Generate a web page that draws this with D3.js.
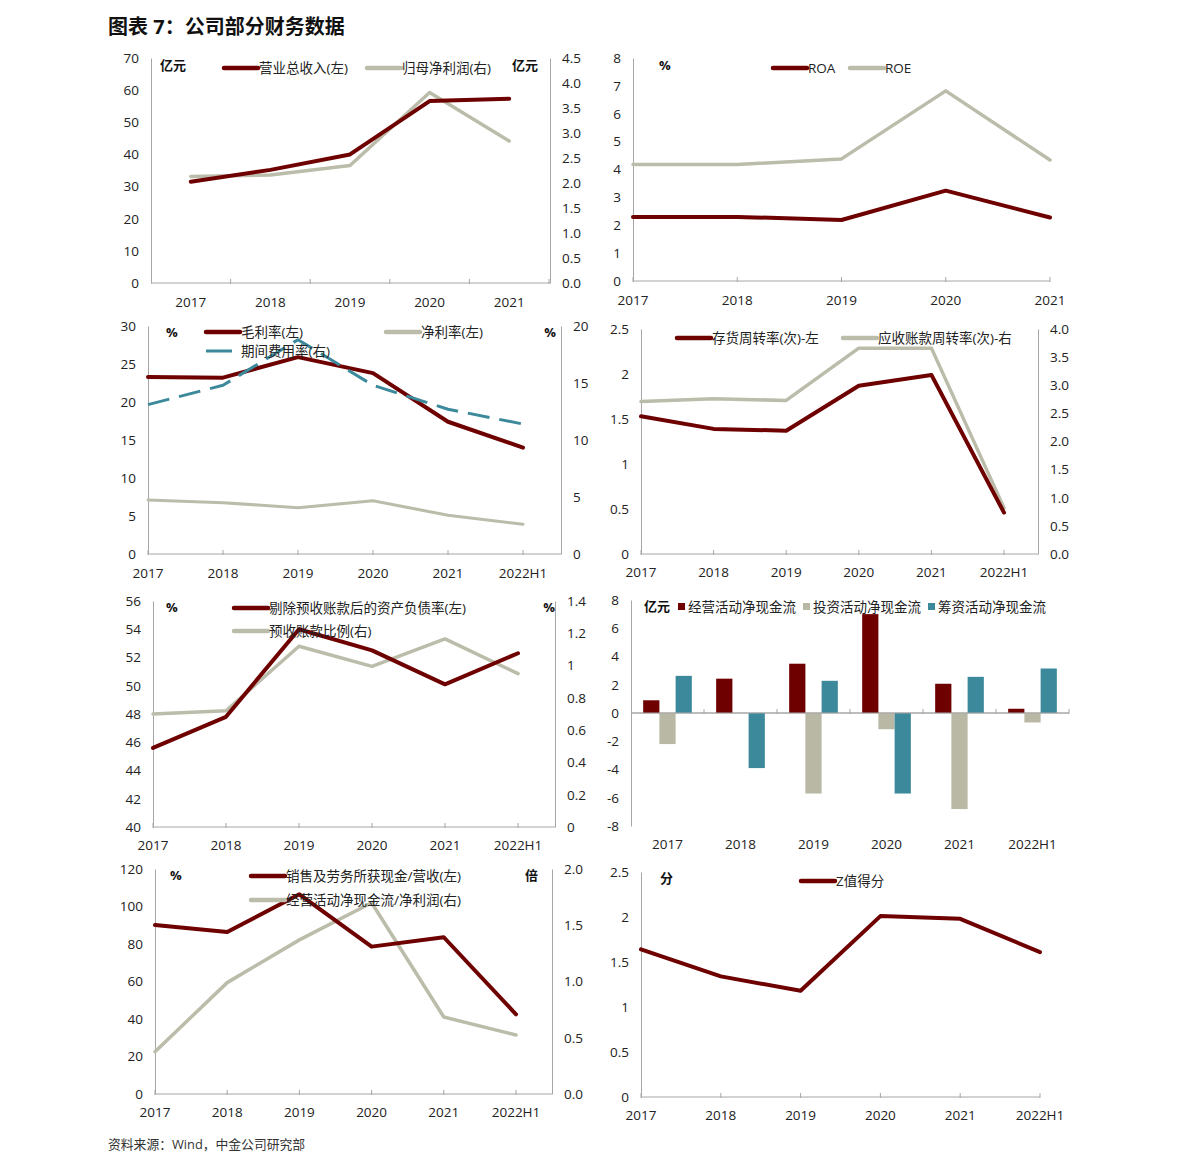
<!DOCTYPE html>
<html><head><meta charset="utf-8">
<script src="https://cdn.jsdelivr.net/npm/d3@7"></script>
<style>
body{margin:0;background:#fff;}
text{font-family:"Open Sans","Noto Sans CJK SC",sans-serif;}
</style></head>
<body>
<svg id="c" width="1190" height="1172"></svg>
<script>
// ---------- DATA ----------
const years5 = ["2017","2018","2019","2020","2021"];
const years6 = ["2017","2018","2019","2020","2021","2022H1"];

const revenue = [31.5, 35.2, 40.0, 56.6, 57.3];          // 营业总收入(左) 亿元
const netProfit = [2.13, 2.16, 2.35, 3.81, 2.84];        // 归母净利润(右) 亿元

const roa = [2.30, 2.30, 2.19, 3.24, 2.28];
const roe = [4.18, 4.18, 4.38, 6.82, 4.34];

const grossMargin = [23.3, 23.2, 25.9, 23.8, 17.4, 14.0]; // 毛利率(左)
const netMargin = [7.1, 6.75, 6.1, 7.0, 5.1, 3.9];        // 净利率(左)
const expenseRate = [13.1, 14.8, 18.8, 14.8, 12.7, 11.4]; // 期间费用率(右)

const invTurnover = [1.53, 1.39, 1.37, 1.87, 1.99, 0.46]; // 存货周转率(次)-左
const arTurnover = [2.71, 2.76, 2.73, 3.66, 3.66, 0.82];  // 应收账款周转率(次)-右

const debtRatio = [45.6, 47.8, 54.0, 52.5, 50.1, 52.3];   // 剔除预收账款后的资产负债率(左)
const advanceRatio = [0.70, 0.72, 1.12, 0.995, 1.165, 0.95]; // 预收账款比例(右)

const cfOperating = [0.9, 2.43, 3.49, 7.0, 2.07, 0.30];
const cfInvesting = [-2.2, 0, -5.7, -1.15, -6.8, -0.67];
const cfFinancing = [2.63, -3.9, 2.28, -5.7, 2.56, 3.15];

const cashToRevenue = [90.1, 86.4, 106.5, 78.6, 83.6, 42.5]; // 销售及劳务所获现金/营收(左)
const ocfToProfit = [0.376, 0.99, 1.37, 1.70, 0.684, 0.524];  // 经营活动净现金流/净利润(右)

const zScore = [1.64, 1.34, 1.18, 2.01, 1.98, 1.61];

const ticks1L = [0,10,20,30,40,50,60,70];
const ticks1R = [0,0.5,1,1.5,2,2.5,3,3.5,4,4.5];
const ticks2L = [0,1,2,3,4,5,6,7,8];
const ticks3L = [0,5,10,15,20,25,30];
const ticks3R = [0,5,10,15,20];
const ticks4L = [0,0.5,1,1.5,2,2.5];
const ticks4R = [0,0.5,1,1.5,2,2.5,3,3.5,4];
const ticks5L = [40,42,44,46,48,50,52,54,56];
const ticks5R = [0,0.2,0.4,0.6,0.8,1,1.2,1.4];
const ticks6L = [-8,-6,-4,-2,0,2,4,6,8];
const ticks7L = [0,20,40,60,80,100,120];
const ticks7R = [0,0.5,1,1.5,2];
const ticks8L = [0,0.5,1,1.5,2,2.5];

// ---------- STYLE ----------
const RED = "#6e0000", GRAY = "#bcbcaa", TEAL = "#3b899b", AXIS = "#a6a6a6", TXT = "#222";
const FS = 13.5;
const svg = d3.select("#c");

svg.append("text").attr("x",108).attr("y",34).attr("font-size",20).attr("font-weight","bold")
  .attr("font-family","Noto Sans CJK SC").attr("fill","#111").text("图表 7：公司部分财务数据");
svg.append("text").attr("x",108).attr("y",1149).attr("font-size",12.8)
  .attr("font-family","Noto Sans CJK SC").attr("fill","#333").text("资料来源：Wind，中金公司研究部");

function fmt1(v){return d3.format(".1f")(v);}
function fmtG(v){return String(+v.toFixed(2));}

function panel(p){
  const g = svg.append("g");
  const yL = d3.scaleLinear().domain(p.lDomain).range([p.bottom, p.top]);
  let x, xPos;
  if(p.band){
    x = d3.scaleBand().domain(p.cats).range([p.left, p.xEnd]);
    xPos = c => x(c) + x.bandwidth()/2;
  } else {
    x = d3.scalePoint().domain(p.cats).range([p.left, p.xLast]);
    xPos = c => x(c);
  }
  const la = d3.axisLeft(yL).tickValues(p.lTicks).tickSize(0).tickPadding(12).tickFormat(p.lFmt||fmtG);
  const lg = g.append("g").attr("transform",`translate(${p.left},0)`).call(la);
  lg.select(".domain").attr("stroke",AXIS);
  lg.selectAll("text").attr("font-size",FS).attr("fill",TXT).attr("font-family","Open Sans");
  let yR = null;
  if(p.rDomain){
    yR = d3.scaleLinear().domain(p.rDomain).range([p.bottom, p.top]);
    const ra = d3.axisRight(yR).tickValues(p.rTicks).tickSize(0).tickPadding(12).tickFormat(p.rFmt||fmtG);
    const rg = g.append("g").attr("transform",`translate(${p.rightX},0)`).call(ra);
    rg.select(".domain").attr("stroke",AXIS);
    rg.selectAll("text").attr("font-size",FS).attr("fill",TXT).attr("font-family","Open Sans");
  }
  const zeroY = p.zeroY !== undefined ? yL(p.zeroY) : p.bottom;
  g.append("line").attr("x1",p.left).attr("x2",p.axisEnd).attr("y1",zeroY).attr("y2",zeroY).attr("stroke",AXIS);
  let tickXs;
  if(p.band){ tickXs = p.cats.map(c=>x(c)+x.bandwidth()).slice(0,-1).concat([p.xEnd]); }
  else { tickXs = p.cats.map(c=>x(c)); }
  g.selectAll(".xt").data(tickXs).enter().append("line")
    .attr("x1",d=>d).attr("x2",d=>d).attr("y1",zeroY-4).attr("y2",zeroY+1).attr("stroke",AXIS);
  g.selectAll(".xl").data(p.cats).enter().append("text")
    .attr("x",c=>xPos(c)).attr("y",p.labelY).attr("text-anchor","middle")
    .attr("font-size",FS).attr("fill",TXT).attr("font-family","Open Sans").text(c=>c);
  return {g, x, xPos, yL, yR};
}

function drawLine(P, data, scale, color, width, dash){
  const line = d3.line().x((d,i)=>P.xPos(P.x.domain()[i])).y(d=>scale(d));
  const path = P.g.append("path").datum(data).attr("d",line).attr("fill","none")
    .attr("stroke",color).attr("stroke-width",width).attr("stroke-linejoin","round").attr("stroke-linecap","round");
  if(dash) path.attr("stroke-dasharray",dash).attr("stroke-linecap","butt");
}
function legendLine(x, y, color, width, label, dash){
  const l = svg.append("line").attr("x1",x).attr("x2",x+34).attr("y1",y).attr("y2",y)
    .attr("stroke",color).attr("stroke-width",width).attr("stroke-linecap",dash?"butt":"round");
  if(dash) l.attr("stroke-dasharray",dash);
  svg.append("text").attr("x",x+35).attr("y",y+4.5).attr("font-size",13.5).attr("fill",TXT)
    .attr("font-family","Noto Sans CJK SC").text(label);
}
function unit(x, y, t, anchor){
  svg.append("text").attr("x",x).attr("y",y).attr("font-size",13).attr("font-weight","bold")
    .attr("text-anchor",anchor||"start").attr("fill","#111").attr("font-family","Noto Sans CJK SC").text(t);
}

// ---------- Panel 1 ----------
{
  const P = panel({cats:years5, band:true, left:151, xEnd:549, axisEnd:550, top:58, bottom:283,
    lDomain:[0,70], lTicks:ticks1L, rDomain:[0,4.5], rTicks:ticks1R, rightX:550, rFmt:fmt1, labelY:307});
  drawLine(P, netProfit, P.yR, GRAY, 3.5);
  drawLine(P, revenue, P.yL, RED, 4);
  unit(160, 70, "亿元"); unit(538, 70, "亿元", "end");
  legendLine(224, 68, RED, 4.5, "营业总收入(左)");
  legendLine(367, 68, GRAY, 4.5, "归母净利润(右)");
}
// ---------- Panel 2 ----------
{
  const P = panel({cats:years5, left:633, xLast:1050, axisEnd:1050, top:58, bottom:281,
    lDomain:[0,8], lTicks:ticks2L, labelY:305});
  drawLine(P, roe, P.yL, GRAY, 3.5);
  drawLine(P, roa, P.yL, RED, 4);
  unit(659, 70, "%");
  legendLine(773, 68, RED, 4.5, "ROA");
  legendLine(850, 68, GRAY, 4.5, "ROE");
}
// ---------- Panel 3 ----------
{
  const P = panel({cats:years6, left:148, xLast:523, axisEnd:561, top:326, bottom:554,
    lDomain:[0,30], lTicks:ticks3L, rDomain:[0,20], rTicks:ticks3R, rightX:561, labelY:578});
  drawLine(P, netMargin, P.yL, GRAY, 3);
  drawLine(P, grossMargin, P.yL, RED, 4);
  drawLine(P, expenseRate, P.yR, TEAL, 3, "22,10");
  unit(166, 337, "%"); unit(556, 337, "%", "end");
  legendLine(206, 332, RED, 4.5, "毛利率(左)");
  legendLine(386, 332, GRAY, 4.5, "净利率(左)");
  legendLine(206, 351, TEAL, 3, "期间费用率(右)", "26,10");
}
// ---------- Panel 4 ----------
{
  const P = panel({cats:years6, left:641, xLast:1004, axisEnd:1038, top:329, bottom:554,
    lDomain:[0,2.5], lTicks:ticks4L, rDomain:[0,4], rTicks:ticks4R, rightX:1038, rFmt:fmt1, labelY:577});
  drawLine(P, arTurnover, P.yR, GRAY, 3.5);
  drawLine(P, invTurnover, P.yL, RED, 4);
  legendLine(677, 338, RED, 4.5, "存货周转率(次)-左");
  legendLine(843, 338, GRAY, 4.5, "应收账款周转率(次)-右");
}
// ---------- Panel 5 ----------
{
  const P = panel({cats:years6, left:153, xLast:518, axisEnd:555, top:601, bottom:827,
    lDomain:[40,56], lTicks:ticks5L, rDomain:[0,1.4], rTicks:ticks5R, rightX:555, labelY:850});
  drawLine(P, advanceRatio, P.yR, GRAY, 3.5);
  drawLine(P, debtRatio, P.yL, RED, 4);
  unit(166, 612, "%"); unit(555, 612, "%", "end");
  legendLine(234, 608, RED, 4.5, "剔除预收账款后的资产负债率(左)");
  legendLine(234, 631, GRAY, 4.5, "预收账款比例(右)");
}
// ---------- Panel 6 (bars) ----------
{
  const P = panel({cats:years6, band:true, left:631, xEnd:1069, axisEnd:1069, top:600, bottom:826,
    lDomain:[-8,8], lTicks:ticks6L, zeroY:0, labelY:849});
  const series = [cfOperating, cfInvesting, cfFinancing];
  const colors = [RED, "#b8b8a5", TEAL];
  const inner = d3.scaleBand().domain([0,1,2]).range([0, P.x.bandwidth()]).paddingOuter(0.75).paddingInner(0);
  series.forEach((s,si)=>{
    P.g.selectAll(".b"+si).data(s).enter().append("rect")
      .attr("x",(d,i)=>P.x(years6[i])+inner(si))
      .attr("width",inner.bandwidth())
      .attr("y",d=>P.yL(Math.max(0,d)))
      .attr("height",d=>Math.abs(P.yL(d)-P.yL(0)))
      .attr("fill",colors[si]);
  });
  P.g.append("line").attr("x1",631).attr("x2",1069).attr("y1",P.yL(0)).attr("y2",P.yL(0)).attr("stroke",AXIS);
  unit(644, 611, "亿元");
  const lg = [["经营活动净现金流",RED,678],["投资活动净现金流","#b8b8a5",803],["筹资活动净现金流",TEAL,928]];
  lg.forEach(([t,c,x])=>{
    svg.append("rect").attr("x",x).attr("y",603).attr("width",7).attr("height",7).attr("fill",c);
    svg.append("text").attr("x",x+10).attr("y",612).attr("font-size",13.5).attr("fill",TXT)
      .attr("font-family","Noto Sans CJK SC").text(t);
  });
}
// ---------- Panel 7 ----------
{
  const P = panel({cats:years6, left:155, xLast:516, axisEnd:552, top:869, bottom:1094,
    lDomain:[0,120], lTicks:ticks7L, rDomain:[0,2], rTicks:ticks7R, rightX:552, rFmt:fmt1, labelY:1117});
  drawLine(P, ocfToProfit, P.yR, GRAY, 3.5);
  drawLine(P, cashToRevenue, P.yL, RED, 4);
  unit(170, 880, "%"); unit(538, 880, "倍", "end");
  legendLine(251, 876, RED, 4.5, "销售及劳务所获现金/营收(左)");
  legendLine(251, 900, GRAY, 4.5, "经营活动净现金流/净利润(右)");
}
// ---------- Panel 8 ----------
{
  const P = panel({cats:years6, left:641, xLast:1040, axisEnd:1040, top:872, bottom:1097,
    lDomain:[0,2.5], lTicks:ticks8L, labelY:1120});
  drawLine(P, zScore, P.yL, RED, 4);
  unit(660, 883, "分");
  legendLine(801, 881, RED, 4.5, "Z值得分");
}
</script>
</body></html>
